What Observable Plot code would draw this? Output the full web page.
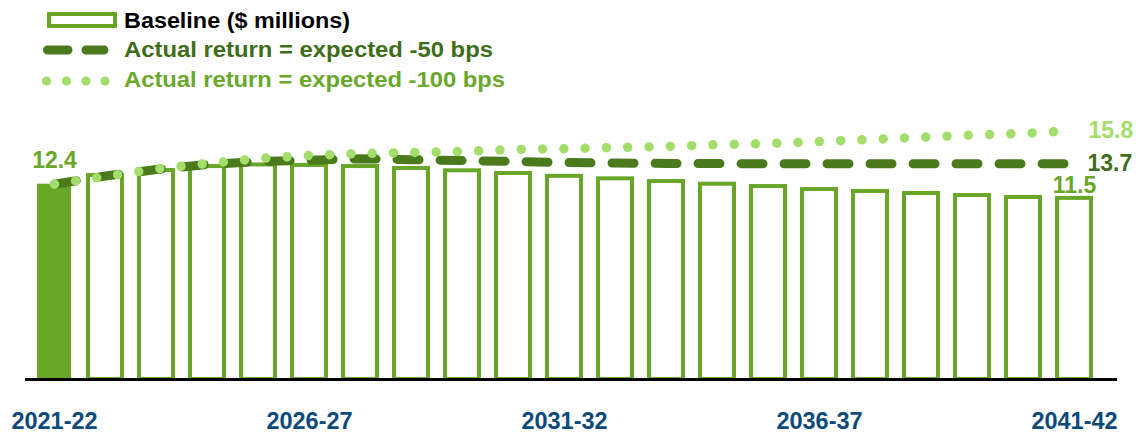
<!DOCTYPE html>
<html><head><meta charset="utf-8">
<script src="https://cdn.jsdelivr.net/npm/d3@7"></script>
<script src="https://cdn.jsdelivr.net/npm/@observablehq/plot@0.6"></script>
<style>
body{margin:0;background:#fff;font-family:"Liberation Sans",Arial,sans-serif;}
#legend{display:block}
#chart svg{display:block}
</style></head><body>
<svg id="legend" width="1145" height="100" style="font-family:'Liberation Sans',Arial,sans-serif;font-weight:bold;font-size:22px">
  <rect x="49" y="14" width="66" height="12" fill="#fff" stroke="#67a627" stroke-width="4"></rect>
  <text x="124" y="28" fill="#000" textLength="226" lengthAdjust="spacingAndGlyphs">Baseline ($ millions)</text>
  <line x1="47.5" y1="50" x2="104" y2="50" stroke="#4a7a1c" stroke-width="9" stroke-linecap="round" stroke-dasharray="20.5,18"></line>
  <text x="124" y="57" fill="#3f6e1a" textLength="369" lengthAdjust="spacingAndGlyphs">Actual return = expected -50 bps</text>
  <circle cx="46.5" cy="81" r="4.6" fill="#a3de6a"></circle>
  <circle cx="66.5" cy="81" r="4.6" fill="#a3de6a"></circle>
  <circle cx="86" cy="81" r="4.6" fill="#a3de6a"></circle>
  <circle cx="105" cy="81" r="4.6" fill="#a3de6a"></circle>
  <text x="124" y="87" fill="#6aa82c" textLength="381" lengthAdjust="spacingAndGlyphs">Actual return = expected -100 bps</text>
</svg>
<div id="chart"></div>
<script>
const years = ["2021-22","2022-23","2023-24","2024-25","2025-26","2026-27","2027-28","2028-29","2029-30","2030-31","2031-32","2032-33","2033-34","2034-35","2035-36","2036-37","2037-38","2038-39","2039-40","2040-41","2041-42"];
const baseline = [12.4, 12.95, 13.27, 13.52, 13.62, 13.59, 13.52, 13.4, 13.25, 13.08, 12.9, 12.74, 12.57, 12.4, 12.25, 12.06, 11.94, 11.81, 11.68, 11.56, 11.5];
const minus50 = [12.4, 12.92, 13.33, 13.65, 13.84, 13.92, 14.01, 13.96, 13.9, 13.84, 13.78, 13.74, 13.72, 13.71, 13.7, 13.7, 13.7, 13.7, 13.7, 13.7, 13.7];
const minus100 = [12.4, 12.89, 13.37, 13.71, 14.03, 14.22, 14.35, 14.41, 14.48, 14.6, 14.65, 14.73, 14.79, 14.91, 14.98, 15.11, 15.24, 15.38, 15.52, 15.62, 15.8];
const tickYears = ["2021-22","2026-27","2031-32","2036-37","2041-42"];

const data = years.map((y, i) => ({year: y, base: baseline[i], m50: minus50[i], m100: minus100[i]}));
const first = data.slice(0, 1);
const rest = data.slice(1);
const last = data.slice(-1);

const chart = Plot.plot({
  width: 1145, height: 336,
  marginTop: 27, marginBottom: 57, marginLeft: 25, marginRight: 28,
  style: {fontFamily: "'Liberation Sans', Arial, sans-serif", fontWeight: "bold", background: "#fff"},
  x: {domain: years, range: [25, 1102], paddingInner: 0.334, paddingOuter: 0.215, axis: null},
  y: {domain: [0, 16], axis: null},
  marks: [
    Plot.barY(rest, {x: "year", y: "base", fill: "#fff", stroke: "#67a627", strokeWidth: 4}),
    Plot.barY(first, {x: "year", y: "base", fill: "#67a627"}),
    Plot.ruleY([0], {stroke: "#000", strokeWidth: 3}),
    Plot.line(data, {x: "year", y: "m50", stroke: "#4a7a1c", strokeWidth: 9, strokeDasharray: "22,21", strokeLinecap: "round"}),
    Plot.line(data, {x: "year", y: "m100", stroke: "#a3de6a", strokeWidth: 9.5, strokeDasharray: "0,21.3", strokeLinecap: "round"}),
    Plot.axisX({ticks: tickYears, tickSize: 0, tickPadding: 33, fontSize: 23.5, color: "#0d4a7c", fontWeight: "bold", label: null}),
    Plot.text(first, {x: "year", y: "base", text: d => d.base.toFixed(1), dy: -24, fill: "#6aa629", fontSize: 23}),
    Plot.text(last, {x: "year", y: "base", text: d => d.base.toFixed(1), dy: -13, fill: "#6aa629", fontSize: 23}),
    Plot.text(last, {x: "year", y: "m100", text: d => d.m100.toFixed(1), textAnchor: "start", dx: 14, fill: "#a3de6a", fontSize: 23}),
    Plot.text(last, {x: "year", y: "m50", text: d => d.m50.toFixed(1), textAnchor: "start", dx: 13, fill: "#3f6e1a", fontSize: 23})
  ]
});
document.getElementById("chart").appendChild(chart);
</script>
</body></html>
